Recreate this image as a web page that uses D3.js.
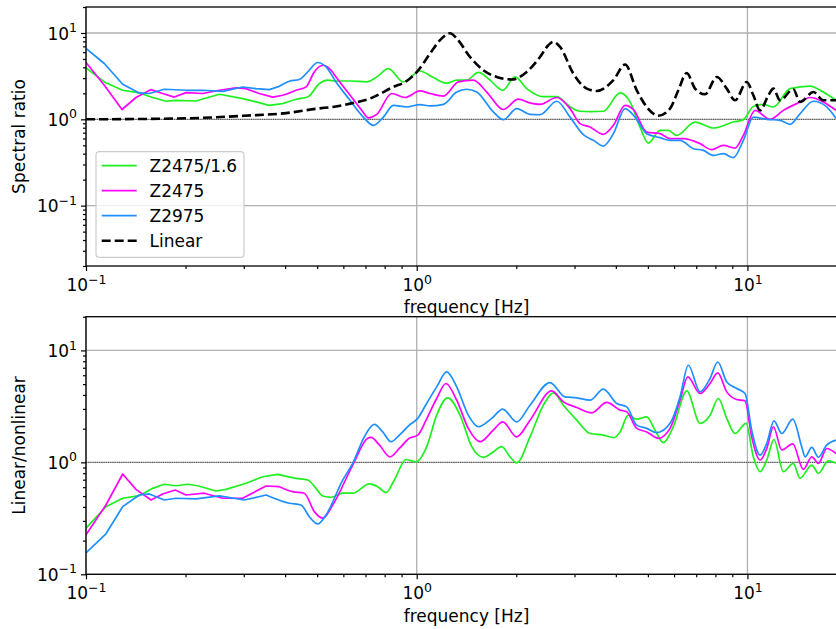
<!DOCTYPE html>
<html>
<head>
<meta charset="utf-8">
<script src="https://cdn.jsdelivr.net/npm/d3@7"></script>
<style>
  body { margin: 0; background: #fff; }
  svg { display: block; font-family: "DejaVu Sans", sans-serif; }
</style>
</head>
<body>
<svg id="chart" width="836" height="629"></svg>
<script>
// ---- Data: [frequency (Hz), value] ----

// Upper panel: spectral ratios
const topZ2475s = [[0.100,3.94],[0.1136,2.71],[0.129,2.17],[0.145,2.02],[0.159,1.79],[0.1745,1.62],[0.187,1.66],
  [0.215,1.63],[0.253,1.95],[0.298,1.74],[0.327,1.59],[0.358,1.45],[0.393,1.52],[0.432,1.71],[0.468,1.81],
  [0.508,2.60],[0.538,2.84],[0.570,2.78],[0.629,2.78],[0.706,2.71],[0.757,3.09],[0.821,3.87],[0.911,2.71],
  [1.023,3.63],[1.122,3.05],[1.232,2.62],[1.321,2.84],[1.416,2.84],[1.536,3.50],[1.666,2.84],[1.820,2.17],
  [1.983,3.10],[2.151,2.27],[2.415,1.83],[2.651,1.83],[2.908,1.40],[3.118,1.24],[3.342,1.23],[3.667,1.24],
  [4.119,2.02],[4.416,1.59],[4.734,0.814],[5.015,0.531],[5.441,0.745],[5.765,0.745],[6.112,0.652],
  [6.943,0.930],[7.887,0.793],[9.065,0.930],[9.719,0.99],[10.42,1.41],[11.17,1.49],[11.98,1.39],
  [13.45,2.27],[15.47,2.43],[16.96,2.07],[18.53,1.66]];

const topZ2475 = [[0.100,4.55],[0.1136,2.48],[0.1285,1.30],[0.1416,1.79],[0.1573,2.21],[0.1705,1.99],[0.1849,1.81],
  [0.2006,2.04],[0.2254,1.99],[0.253,2.17],[0.284,2.31],[0.3047,2.27],[0.334,1.99],[0.367,1.81],[0.4025,1.95],
  [0.4315,2.17],[0.4627,2.37],[0.490,3.54],[0.520,4.23],[0.551,3.70],[0.570,3.09],[0.629,1.90],[0.682,1.27],
  [0.714,1.04],[0.757,1.14],[0.840,1.99],[0.922,1.79],[1.023,2.13],[1.097,1.99],[1.204,1.86],[1.336,2.71],
  [1.483,2.84],[1.628,2.07],[1.827,1.30],[2.029,1.71],[2.201,1.55],[2.360,1.49],[2.651,1.79],[2.908,1.33],
  [3.118,0.891],[3.342,0.814],[3.667,0.670],[3.932,0.852],[4.265,1.45],[4.519,1.30],[4.960,0.712],
  [5.441,0.682],[5.834,0.597],[6.400,0.597],[7.190,0.523],[7.799,0.445],[8.455,0.499],[9.173,0.465],
  [9.719,0.652],[10.54,1.27],[11.70,1.00],[12.84,1.27],[14.09,1.52],[15.47,1.79],[16.96,1.59],[18.53,1.27]];

const topZ2975 = [[0.100,6.61],[0.1136,4.43],[0.1291,2.55],[0.1449,2.02],[0.1554,1.99],[0.1725,2.23],[0.2006,2.17],
  [0.2254,2.17],[0.2591,2.11],[0.2977,2.37],[0.3266,2.27],[0.3583,2.21],[0.3841,2.41],[0.4119,2.76],
  [0.4416,2.89],[0.4682,3.54],[0.502,4.55],[0.5318,4.04],[0.570,2.71],[0.6286,1.66],[0.6894,1.06],
  [0.7394,0.852],[0.7926,1.06],[0.8495,1.45],[0.9328,1.39],[1.023,1.48],[1.097,1.43],[1.204,1.49],
  [1.321,2.07],[1.416,2.23],[1.519,2.07],[1.704,1.22],[1.827,0.99],[2.006,1.33],[2.201,1.14],[2.360,1.13],
  [2.651,1.62],[2.908,1.06],[3.190,0.665],[3.420,0.571],[3.667,0.490],[3.932,0.682],[4.265,1.33],
  [4.573,1.06],[4.960,0.682],[5.441,0.613],[5.834,0.571],[6.254,0.571],[6.862,0.457],[7.356,0.437],
  [7.887,0.382],[8.455,0.400],[9.065,0.360],[9.719,0.571],[10.42,1.06],[11.44,1.00],[12.55,0.973],
  [13.45,0.875],[14.42,1.16],[15.83,1.62],[17.37,1.39],[18.53,1.02]];

const topLinear = [[0.100,1.00],[0.13,1.005],[0.17,1.015],[0.239,1.05],[0.30,1.10],[0.4025,1.18],[0.50,1.33],
  [0.570,1.41],[0.629,1.52],[0.7225,1.74],[0.8495,2.37],[0.9328,2.78],[1.011,3.70],[1.097,5.78],[1.176,8.25],
  [1.261,9.95],[1.321,8.63],[1.449,5.28],[1.590,3.70],[1.746,3.09],[1.938,2.89],[2.151,3.54],[2.360,5.28],
  [2.500,7.22],[2.589,7.88],[2.713,6.90],[2.975,3.39],[3.267,2.27],[3.502,2.13],[3.932,2.84],[4.265,4.31],
  [4.627,2.17],[4.960,1.39],[5.377,1.10],[5.834,1.33],[6.180,2.17],[6.553,3.44],[6.943,2.27],[7.444,1.95],
  [8.076,3.09],[8.658,2.27],[9.173,1.66],[9.952,2.71],[10.42,1.90],[10.92,1.27],[11.57,1.90],[11.98,2.27],
  [12.55,1.66],[13.76,2.23],[14.42,1.59],[15.83,2.07],[16.96,1.66],[18.53,1.66]];

// Lower panel: linear / nonlinear ratios
const botZ2475s = [[0.100,0.258],[0.1149,0.402],[0.1291,0.478],[0.1449,0.504],[0.1591,0.586],[0.1725,0.637],
  [0.1872,0.618],[0.2030,0.637],[0.2177,0.618],[0.2472,0.555],[0.2651,0.574],[0.3047,0.650],[0.3422,0.744],
  [0.3799,0.782],[0.4315,0.720],[0.4682,0.695],[0.4961,0.586],[0.5198,0.501],[0.5507,0.488],[0.5973,0.530],
  [0.6404,0.530],[0.7190,0.641],[0.7623,0.606],[0.8077,0.536],[0.8555,0.695],[0.9282,1.06],[0.9951,1.01],
  [1.072,1.38],[1.149,2.64],[1.241,3.77],[1.352,2.64],[1.467,1.38],[1.590,1.11],[1.704,1.24],[1.807,1.38],
  [1.915,1.12],[2.006,0.99],[2.201,1.69],[2.415,3.24],[2.589,4.17],[2.776,3.24],[3.047,2.38],[3.342,1.81],
  [3.667,1.75],[3.951,1.66],[4.119,1.87],[4.364,2.64],[4.627,2.43],[4.960,2.55],[5.255,1.94],[5.568,1.50],
  [5.969,2.08],[6.553,4.35],[7.190,2.23],[7.708,2.64],[8.166,3.72],[8.658,2.47],[9.173,1.81],[9.903,2.23],
  [10.42,1.12],[10.92,0.824],[11.44,1.05],[12.03,1.60],[12.84,0.824],[13.76,0.98],[14.42,0.720],
  [15.65,0.946],[16.39,0.798],[17.56,1.03],[18.53,0.98]];

const botZ2475 = [[0.100,0.225],[0.1149,0.416],[0.1291,0.787],[0.1416,0.574],[0.1573,0.461],[0.1705,0.522],
  [0.1862,0.566],[0.2006,0.511],[0.2279,0.530],[0.2591,0.478],[0.2977,0.478],[0.3502,0.615],[0.3841,0.606],
  [0.4217,0.547],[0.4571,0.530],[0.4903,0.363],[0.5198,0.317],[0.5572,0.416],[0.6404,0.946],[0.7109,1.64],
  [0.7275,1.67],[0.7708,1.43],[0.8306,1.12],[0.8859,1.33],[0.9497,1.64],[1.007,1.75],[1.067,2.38],
  [1.149,3.72],[1.226,5.06],[1.321,3.59],[1.432,2.01],[1.554,1.53],[1.704,1.94],[1.820,2.30],[2.006,1.69],
  [2.201,2.38],[2.560,4.35],[2.776,3.47],[3.047,3.09],[3.382,2.77],[3.755,3.43],[4.119,2.93],[4.315,2.83],
  [4.627,2.01],[4.960,1.87],[5.377,1.64],[5.834,2.01],[6.254,3.59],[6.599,5.79],[7.190,4.12],[7.708,5.06],
  [8.132,6.29],[8.658,4.26],[9.282,3.64],[9.834,3.54],[10.30,1.69],[10.92,1.05],[11.44,1.33],[11.98,2.08],
  [12.70,1.29],[13.71,1.46],[14.76,0.866],[15.65,1.12],[16.39,0.98],[17.37,1.33],[18.53,1.20]];

const botZ2975 = [[0.100,0.155],[0.1149,0.230],[0.1291,0.402],[0.1449,0.511],[0.1554,0.522],[0.1725,0.461],
  [0.1872,0.478],[0.2151,0.471],[0.2530,0.501],[0.3011,0.461],[0.3502,0.511],[0.4119,0.431],[0.4468,0.416],
  [0.4735,0.327],[0.5020,0.282],[0.5318,0.339],[0.5973,0.695],[0.6404,0.98],[0.6942,1.69],[0.7445,2.18],
  [0.7893,1.87],[0.8363,1.53],[0.8859,1.75],[0.9497,2.15],[1.007,2.47],[1.067,3.29],[1.149,4.72],
  [1.232,6.42],[1.321,4.72],[1.432,2.64],[1.536,2.08],[1.686,2.47],[1.820,2.99],[2.006,2.30],[2.201,3.24],
  [2.530,5.16],[2.809,3.84],[3.047,3.77],[3.342,3.59],[3.667,4.50],[4.026,3.36],[4.315,3.13],[4.627,2.15],
  [4.960,2.01],[5.317,1.84],[5.834,2.23],[6.254,3.84],[6.626,7.37],[7.190,4.26],[7.708,5.61],[8.132,7.88],
  [8.658,5.23],[9.282,4.57],[9.834,4.12],[10.30,1.94],[10.92,1.16],[11.44,1.48],[12.03,2.35],[12.70,1.81],
  [13.71,2.43],[14.59,1.38],[14.94,1.12],[15.65,1.36],[16.39,1.11],[17.37,1.43],[18.53,1.58]];

// Axis settings
const freqDomain = [0.1, 20];
const topYDomain = [0.02, 20];
const botYDomain = [0.1, 20];
const majorDecades = [0.01, 0.1, 1, 10];
const xLabel = "frequency [Hz]";
const topYLabel = "Spectral ratio";
const botYLabel = "Linear/nonlinear";

// Series styling
const COLORS = { z2475s: "#1ef01e", z2475: "#ff00ff", z2975: "#1e8fff", linear: "#000000" };
const legendItems = [
  { label: "Z2475/1.6", color: COLORS.z2475s, dash: null },
  { label: "Z2475", color: COLORS.z2475, dash: null },
  { label: "Z2975", color: COLORS.z2975, dash: null },
  { label: "Linear", color: COLORS.linear, dash: "9,4" }
];

// Below this frequency the samples are sparse on a log axis, so they are
// joined with straight segments; above it a smooth monotone curve is used.
const SPARSE_LIMIT = 0.4;

// ---- Layout ----
const svg = d3.select("#chart");
const FONT = 17;
const axLeft = 86, axRight = 847;
const x = d3.scaleLog().domain(freqDomain).range([axLeft, axRight]);

const panels = [
  {
    key: "top", top: 7, bottom: 266, yDomain: topYDomain, yLabel: topYLabel, xLabelY: 313,
    series: [
      { data: topZ2475s, color: COLORS.z2475s, width: 1.7 },
      { data: topZ2475, color: COLORS.z2475, width: 1.7 },
      { data: topZ2975, color: COLORS.z2975, width: 1.7 },
      { data: topLinear, color: COLORS.linear, width: 2.6, dash: "9,4", smooth: true }
    ],
    legend: true
  },
  {
    key: "bot", top: 316.7, bottom: 574.3, yDomain: botYDomain, yLabel: botYLabel, xLabelY: 621.5,
    series: [
      { data: botZ2475s, color: COLORS.z2475s, width: 1.7 },
      { data: botZ2475, color: COLORS.z2475, width: 1.7 },
      { data: botZ2975, color: COLORS.z2975, width: 1.7 }
    ],
    legend: false
  }
];

function minorTicks(domain) {
  const out = [];
  for (let p = -3; p <= 2; p++) {
    for (let m = 2; m <= 9; m++) {
      const v = m * Math.pow(10, p);
      if (v >= domain[0] * 0.999 && v <= domain[1] * 1.001) out.push(v);
    }
  }
  return out;
}

// Writes "10" with a superscript exponent into a tick label
function powerLabel(sel) {
  sel.each(function (d) {
    const e = Math.round(Math.log10(d));
    const t = d3.select(this);
    t.text(null);
    t.append("tspan").text("10");
    t.append("tspan").attr("dy", -7.5).attr("font-size", 12.5)
      .text(e < 0 ? "\u2212" + Math.abs(e) : String(e));
  });
}

panels.forEach((p) => {
  const y = d3.scaleLog().domain(p.yDomain).range([p.bottom, p.top]);
  const g = svg.append("g").attr("class", "panel-" + p.key);
  const clipId = "clip-" + p.key;
  svg.append("clipPath").attr("id", clipId)
    .append("rect").attr("x", axLeft).attr("y", p.top)
    .attr("width", axRight - axLeft).attr("height", p.bottom - p.top);

  const yMajors = majorDecades.filter(v => v >= p.yDomain[0] && v <= p.yDomain[1]);
  const xMajors = majorDecades.filter(v => v >= freqDomain[0] && v <= freqDomain[1]);

  // Grid
  const grid = g.append("g").attr("stroke", "#b0b0b0").attr("stroke-width", 1.3);
  grid.selectAll("line.gx").data(xMajors).join("line")
    .attr("x1", d => x(d)).attr("x2", d => x(d)).attr("y1", p.top).attr("y2", p.bottom);
  grid.selectAll("line.gy").data(yMajors).join("line")
    .attr("x1", axLeft).attr("x2", axRight).attr("y1", d => y(d)).attr("y2", d => y(d));

  // Reference line at unity
  g.append("line").attr("x1", axLeft).attr("x2", axRight)
    .attr("y1", y(1)).attr("y2", y(1))
    .attr("stroke", "#222").attr("stroke-width", 0.8).attr("stroke-dasharray", "1,1.2");

  // Series: straight segments in the sparse low band, smooth curve above it
  const lineLin = d3.line().x(d => x(d[0])).y(d => y(d[1])).curve(d3.curveLinear);
  const lineSmooth = d3.line().x(d => x(d[0])).y(d => y(d[1])).curve(d3.curveMonotoneX);
  const lines = g.append("g").attr("clip-path", `url(#${clipId})`);
  p.series.forEach(s => {
    let segs;
    if (s.smooth) {
      segs = [{ pts: s.data, gen: lineSmooth }];
    } else {
      const split = s.data.findIndex(d => d[0] > SPARSE_LIMIT);
      const cut = Math.max(1, split - 1);
      segs = [
        { pts: s.data.slice(0, cut + 1), gen: lineLin },
        { pts: s.data.slice(cut), gen: lineSmooth }
      ];
    }
    const d = segs.map(sg => sg.gen(sg.pts)).join("").replace(/(?!^)M/g, "L");
    lines.append("path")
      .attr("d", d).attr("fill", "none")
      .attr("stroke", s.color).attr("stroke-width", s.width)
      .attr("stroke-linejoin", "round")
      .attr("stroke-dasharray", s.dash || null);
  });

  // X axis
  const xAxisG = g.append("g").attr("transform", `translate(0,${p.bottom})`);
  xAxisG.call(d3.axisBottom(x).tickValues(minorTicks(freqDomain)).tickSize(3).tickFormat(""));
  const xMajorG = g.append("g").attr("transform", `translate(0,${p.bottom})`);
  xMajorG.call(d3.axisBottom(x).tickValues(xMajors).tickSize(5));
  xMajorG.selectAll(".tick text").attr("y", 25).attr("dy", null)
    .attr("font-size", FONT).attr("font-family", "DejaVu Sans").attr("fill", "#000")
    .call(powerLabel);

  // Y axis
  const yAxisG = g.append("g").attr("transform", `translate(${axLeft},0)`);
  yAxisG.call(d3.axisLeft(y).tickValues(minorTicks(p.yDomain)).tickSize(3).tickFormat(""));
  const yMajorG = g.append("g").attr("transform", `translate(${axLeft},0)`);
  yMajorG.call(d3.axisLeft(y).tickValues(yMajors).tickSize(5));
  yMajorG.selectAll(".tick text").attr("x", -9).attr("dy", "0.36em")
    .attr("font-size", FONT).attr("font-family", "DejaVu Sans").attr("fill", "#000")
    .call(powerLabel);

  [xAxisG, xMajorG, yAxisG, yMajorG].forEach(a => {
    a.select(".domain").remove();
    a.selectAll(".tick line").attr("stroke", "#000").attr("stroke-width", 1.2);
  });

  // Spines
  g.append("rect").attr("x", axLeft).attr("y", p.top)
    .attr("width", axRight - axLeft).attr("height", p.bottom - p.top)
    .attr("fill", "none").attr("stroke", "#000").attr("stroke-width", 1.3);

  // Axis labels
  g.append("text").attr("x", (axLeft + axRight) / 2).attr("y", p.xLabelY)
    .attr("text-anchor", "middle").attr("font-size", FONT).text(xLabel);
  g.append("text")
    .attr("transform", `translate(24.5,${(p.top + p.bottom) / 2}) rotate(-90)`)
    .attr("text-anchor", "middle").attr("font-size", FONT).text(p.yLabel);

  // Legend
  if (p.legend) {
    const lg = g.append("g").attr("class", "legend");
    lg.append("rect").attr("x", 96).attr("y", 151.7).attr("width", 148).attr("height", 105.6)
      .attr("rx", 3.5).attr("fill", "#fff").attr("fill-opacity", 0.8)
      .attr("stroke", "#cccccc").attr("stroke-width", 1.2);
    const rowY = d3.scalePoint().domain(legendItems.map(d => d.label)).range([165.7, 240.7]);
    legendItems.forEach(it => {
      const yy = rowY(it.label);
      lg.append("line").attr("x1", 101.7).attr("x2", 136.7).attr("y1", yy).attr("y2", yy)
        .attr("stroke", it.color).attr("stroke-width", it.dash ? 2.6 : 1.7)
        .attr("stroke-dasharray", it.dash);
      lg.append("text").attr("x", 149.5).attr("y", yy + 6.2)
        .attr("font-size", FONT).text(it.label);
    });
  }
});
</script>
</body>
</html>
